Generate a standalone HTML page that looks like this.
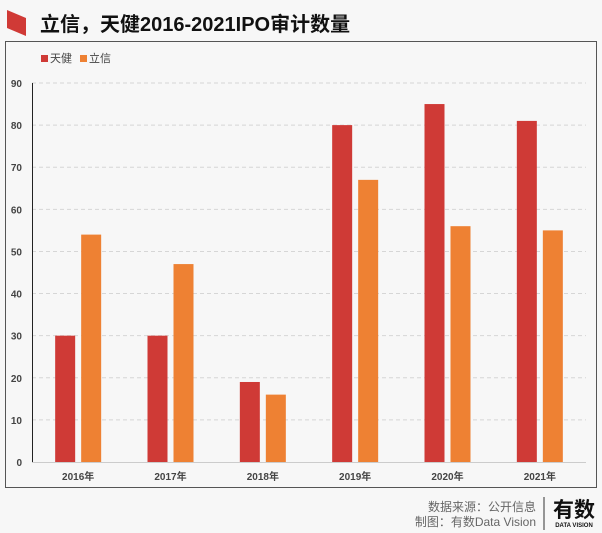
<!DOCTYPE html>
<html><head><meta charset="utf-8"><style>
body{margin:0;width:602px;height:533px;background:#f7f7f7;font-family:"Liberation Sans","Noto Sans CJK SC",sans-serif;overflow:hidden;position:relative}
.t{position:absolute}
</style></head><body>
<svg class="t" style="left:0;top:0" width="602" height="533">
<polygon points="7,10 26,18 26,36 7,28" fill="#d03a36"/>
<text x="40" y="31" font-size="20" font-weight="bold" fill="#111" font-family="Liberation Sans, Noto Sans CJK SC, sans-serif">立信，天健2016-2021IPO审计数量</text>
<rect x="5.5" y="41.5" width="591" height="446" fill="#f7f7f7" stroke="#555"/>
<rect x="41" y="55" width="7" height="7" fill="#cf3a36"/>
<text x="50" y="62" font-size="11" fill="#444" font-family="Liberation Sans, Noto Sans CJK SC, sans-serif">天健</text>
<rect x="80" y="55" width="7" height="7" fill="#ee8133"/>
<text x="89" y="62" font-size="11" fill="#444" font-family="Liberation Sans, Noto Sans CJK SC, sans-serif">立信</text>
<g id="plot"></g>
<line x1="576" y1="527" x2="0" y2="0" stroke="none"/>
<text x="536" y="511" font-size="12" fill="#666" text-anchor="end" font-family="Liberation Sans, Noto Sans CJK SC, sans-serif">数据来源：公开信息</text>
<text x="536" y="526" font-size="12" fill="#666" text-anchor="end" font-family="Liberation Sans, Noto Sans CJK SC, sans-serif">制图：有数Data Vision</text>
<line x1="544" y1="497" x2="544" y2="530" stroke="#333"/>
<text x="574" y="517" font-size="21" font-weight="bold" fill="#111" text-anchor="middle" font-family="Liberation Sans, Noto Sans CJK SC, sans-serif">有数</text>
<text x="574" y="527" font-size="6" font-weight="bold" fill="#111" text-anchor="middle" font-family="Liberation Sans, sans-serif">DATA VISION</text>
</svg>
<script>
const categories=["2016年","2017年","2018年","2019年","2020年","2021年"];
const tianjian=[30,30,19,80,85,81];
const lixin=[54,47,16,67,56,55];
const yTicks=[0,10,20,30,40,50,60,70,80,90];
const NS="http://www.w3.org/2000/svg";
const g=document.getElementById("plot");
const x0=32,x1=586,y0=462,y90=83;
const y=v=>y0-(v/90)*(y0-y90);
const band=(x1-x0)/categories.length;
const cx=i=>x0+band*(i+0.5);
function mk(tag,attrs){const e=document.createElementNS(NS,tag);for(const k in attrs)e.setAttribute(k,attrs[k]);g.appendChild(e);return e;}
yTicks.forEach(t=>{
 if(t>0){const l=mk("line",{x1:x0,x2:x1,y1:y(t),y2:y(t),stroke:"#d6d6d6","stroke-dasharray":"4,3"});
 
 }
 const tx=mk("text",{x:22,y:y(t)+4,"font-size":10,"font-weight":"bold",fill:"#444","text-anchor":"end","font-family":"Liberation Sans, sans-serif"});
 tx.textContent=t;
 
 
});
const ax=mk("line",{x1:x0+0.5,x2:x0+0.5,y1:y90,y2:y0,stroke:"#222"});


const xa=mk("line",{x1:x0,x2:x1,y1:y0+0.5,y2:y0+0.5,stroke:"#ccc"});


categories.forEach((c,i)=>{
 const r1=mk("rect",{x:cx(i)-23,y:y(tianjian[i]),width:20,height:y0-y(tianjian[i]),fill:"#cf3a36"});
 
 
 const r2=mk("rect",{x:cx(i)+3,y:y(lixin[i]),width:20,height:y0-y(lixin[i]),fill:"#ee8133"});
 
 
 const t=mk("text",{x:cx(i),y:480,"font-size":10,"font-weight":"bold",fill:"#444","text-anchor":"middle","font-family":"Liberation Sans, Noto Sans CJK SC, sans-serif"});
 t.textContent=c;
 
 
});
</script>
</body></html>
